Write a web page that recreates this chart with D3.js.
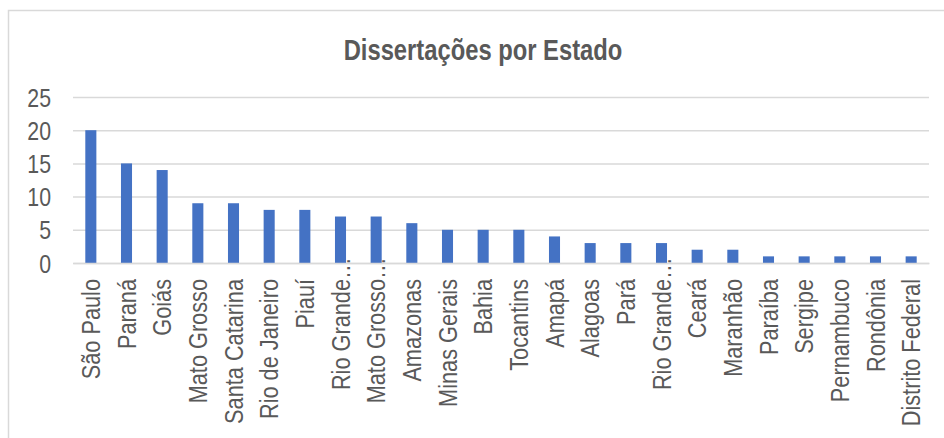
<!DOCTYPE html>
<html>
<head>
<meta charset="utf-8">
<script src="https://cdn.jsdelivr.net/npm/d3@7"></script>
<style>
  html, body { margin: 0; padding: 0; background: #fff; }
</style>
</head>
<body>
<svg id="chart" width="944" height="438"></svg>
<script>
const title = "Dissertações por Estado";
const categories = ["São Paulo", "Paraná", "Goiás", "Mato Grosso", "Santa Catarina", "Rio de Janeiro", "Piauí",
  "Rio Grande…", "Mato Grosso…", "Amazonas", "Minas Gerais", "Bahia", "Tocantins", "Amapá", "Alagoas", "Pará",
  "Rio Grande…", "Ceará", "Maranhão", "Paraíba", "Sergipe", "Pernambuco", "Rondônia", "Distrito Federal"];
const values = [20, 15, 14, 9, 9, 8, 8, 7, 7, 6, 5, 5, 5, 4, 3, 3, 3, 2, 2, 1, 1, 1, 1, 1];
const yTicks = [0, 5, 10, 15, 20, 25];

// font detection: prefer a narrow font, otherwise compress regular sans
function hasFont(name) {
  const c = document.createElement("canvas").getContext("2d");
  const s = "São Paulo Distrito Federal 0123456789";
  c.font = "40px monospace"; const a = c.measureText(s).width;
  c.font = "40px '" + name + "', monospace"; const b = c.measureText(s).width;
  return Math.abs(a - b) > 0.5;
}
const narrow = hasFont("Liberation Sans Narrow") ? "'Liberation Sans Narrow'" :
               (hasFont("Arial Narrow") ? "'Arial Narrow'" : null);
const fontFam = narrow || "'Liberation Sans', Arial, sans-serif";
const sx = narrow ? 1 : 0.82; // horizontal squeeze when no narrow font

const svg = d3.select("#chart");
const textColor = "#595959";
const gridColor = "#d9d9d9";

// chart frame
svg.append("rect").attr("x", 8.5).attr("y", 10.5).attr("width", 1000).attr("height", 600)
  .attr("fill", "none").attr("stroke", gridColor).attr("stroke-width", 1.5);

const margin = { left: 73, right: 15, top: 97, bottom: 175 };
const W = 944, H = 438;
const x = d3.scaleBand().domain(d3.range(categories.length)).range([margin.left, W - margin.right]).paddingInner(0.69).paddingOuter(0.345);
const y = d3.scaleLinear().domain([0, 25]).range([H - margin.bottom, margin.top]);

// title
svg.append("text")
  .attr("transform", `translate(483,60) scale(${sx},1)`)
  .attr("text-anchor", "middle")
  .attr("font-family", fontFam).attr("font-weight", "bold").attr("font-size", 29)
  .attr("fill", textColor).text(title);

// gridlines + y axis
const yAxis = d3.axisLeft(y).tickValues(yTicks).tickSize(-(W - margin.right - margin.left)).tickPadding(0);
const gy = svg.append("g").attr("transform", `translate(${margin.left},0)`).call(yAxis);
gy.select(".domain").remove();
gy.selectAll(".tick line").attr("stroke", gridColor).attr("stroke-width", 1.5);
gy.selectAll(".tick text").remove();
gy.selectAll(".tick").append("text")
  .attr("transform", `translate(-22,0) scale(${sx},1)`)
  .attr("dy", "0.35em").attr("text-anchor", "end")
  .attr("font-family", fontFam).attr("font-size", 26).attr("fill", textColor)
  .text(d => d);

// bars
svg.append("g").selectAll("rect").data(values).join("rect")
  .attr("x", (d, i) => x(i)).attr("width", x.bandwidth())
  .attr("y", d => y(d)).attr("height", d => y(0) - y(d))
  .attr("fill", "#4472C4");

// x axis labels
const xAxis = d3.axisBottom(x).tickSize(0).tickFormat(i => categories[i]);
const gx = svg.append("g").attr("transform", `translate(0,${y(0)})`).call(xAxis);
gx.select(".domain").attr("stroke", gridColor).attr("stroke-width", 1.5);
gx.selectAll(".tick text").remove();
gx.selectAll(".tick").each(function(i) {
  const g = d3.select(this);
  const label = categories[i];
  const trunc = label.endsWith("…");
  const main = trunc ? label.slice(0, -1) : label;
  g.append("text")
    .attr("transform", `translate(0,16) rotate(-90) scale(${sx},1)`)
    .attr("dy", "0.35em").attr("text-anchor", "end")
    .attr("font-family", fontFam).attr("font-size", 26.5).attr("fill", textColor)
    .text(main);
  if (trunc) {
    g.append("text")
      .attr("transform", `translate(0,16) rotate(-90) scale(${sx},1)`)
      .attr("dy", "0.35em").attr("text-anchor", "start")
      .attr("font-family", fontFam).attr("font-size", 26.5).attr("fill", textColor)
      .text("…");
  }
});
</script>
</body>
</html>
